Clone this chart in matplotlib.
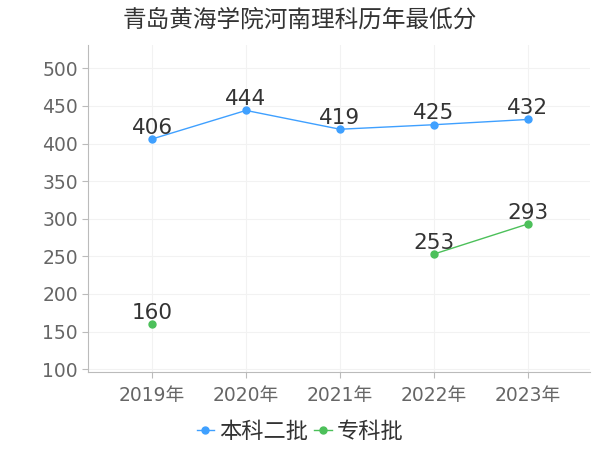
import numpy as np
import matplotlib
matplotlib.use("Agg")
import matplotlib.pyplot as plt

plt.rcParams['font.family'] = ['DejaVu Sans', 'Noto Sans CJK SC']

years = ['2019年', '2020年', '2021年', '2022年', '2023年']
benke = [406, 444, 419, 425, 432]
zhuanke = [160, np.nan, np.nan, 253, 293]
y_ticks = [100, 150, 200, 250, 300, 350, 400, 450, 500]

blue = '#3fa0ff'
green = '#4cc05a'

fig = plt.figure(figsize=(6, 4.5), dpi=100)
ax = fig.add_axes([0.147, 0.173, 0.836, 0.727])

x = np.arange(len(years))
ax.plot(x, benke, color=blue, linewidth=1, marker='o', markersize=5, label='本科二批', zorder=3)
ax.plot(x, zhuanke, color=green, linewidth=1, marker='o', markersize=5, label='专科批', zorder=3)

# value labels above each point
for xi, v in zip(x, benke):
    ax.annotate(f'{v}', (xi, v), textcoords='offset points', xytext=(0, 1),
                ha='center', va='bottom', fontsize=15.5, color='#333333')
for xi, v in zip(x, zhuanke):
    if not np.isnan(v):
        ax.annotate(f'{int(v)}', (xi, v), textcoords='offset points', xytext=(0, 1),
                    ha='center', va='bottom', fontsize=15.5, color='#333333')

ax.set_xlim(-0.68, 4.66)
ax.set_ylim(96, 531)
ax.set_xticks(x)
ax.set_xticklabels(years)
ax.set_yticks(y_ticks)
ax.tick_params(axis='both', labelsize=13.5, colors='#666666', length=4, color='#bbbbbb')
ax.tick_params(axis='x', pad=6)

ax.grid(True, color='#f2f2f2', linewidth=0.8)
ax.set_axisbelow(True)
for s in ['top', 'right']:
    ax.spines[s].set_visible(False)
for s in ['left', 'bottom']:
    ax.spines[s].set_color('#bbbbbb')

fig.suptitle('青岛黄海学院河南理科历年最低分', x=0.5, y=0.982, fontsize=17, color='#333333')

fig.legend(loc='center', bbox_to_anchor=(0.5, 0.04), ncol=2, frameon=False,
           fontsize=16, handlelength=0.8, handletextpad=0.2, columnspacing=0.3,
           labelcolor='#333333')

fig.savefig('out.png', dpi=100)
